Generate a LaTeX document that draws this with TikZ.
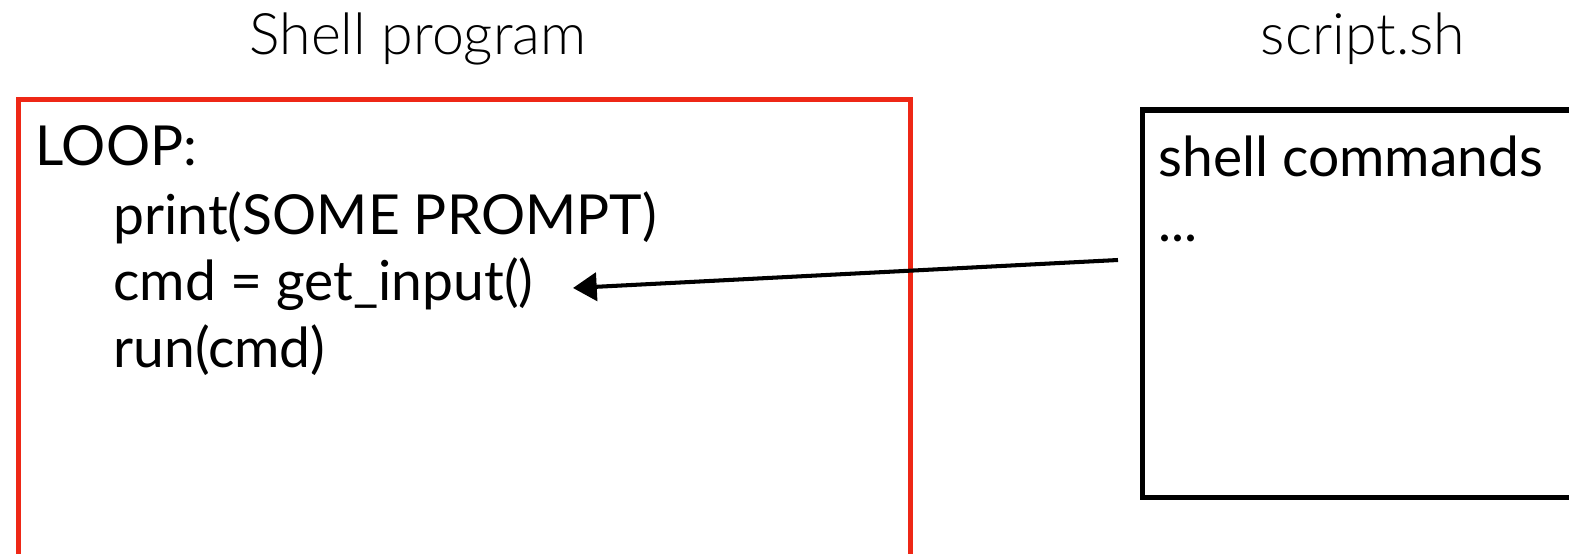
\documentclass[tikz,border=0pt]{standalone}
\usepackage{fontspec}
\setmainfont{Lato}
\IfFontExistsTF{Lato Light}{\newfontfamily\lightfont{Lato Light}}{\newfontfamily\lightfont{Lato}}
\usetikzlibrary{arrows.meta,positioning}
\definecolor{boxred}{RGB}{238,39,22}

\begin{document}
\begin{tikzpicture}[x=0.02cm,y=-0.02cm,
  title/.style={anchor=base,inner sep=0pt,font=\lightfont\fontsize{32.6}{38}\selectfont},
  code/.style={anchor=base west,inner sep=0pt,font=\fontsize{31.4}{38}\selectfont},
  shellbox/.style={draw=boxred,line width=2.8pt},
  scriptbox/.style={draw=black,line width=3.1pt},
  feed/.style={line width=2.3pt,-{Triangle[length=13.5pt,width=16pt]}}]
\useasboundingbox (0,0) rectangle (1569,554);
\clip (0,0) rectangle (1569,554);
% titles
\node[title] (shelltitle) at (418,55) {Shell program};
\node[title] (scripttitle) at (1363,55) {script.sh};
% the two boxes
\draw[shellbox] (18.5,99.5) rectangle (910.5,570);
\draw[scriptbox] (1142.5,110) rectangle (1600,497.5);
% shell program
\node[code] (loop) at (35,166) {LOOP:};
\node[code] (print) at (113,234) {print(SOME PROMPT)};
\node[code] (cmd) at (113,300) {cmd = get\_input()};
\node[code] (run) at (113,367) {run(cmd)};
% script
\node[code] (commands) at (1158,176) {shell commands};
\node[code] (dots) at (1158,241) {...};
% input goes to get_input
\coordinate (from) at (1118,260);
\coordinate (to) at (573,288);
\draw[feed] (from) -- (to);
\end{tikzpicture}
\end{document}
